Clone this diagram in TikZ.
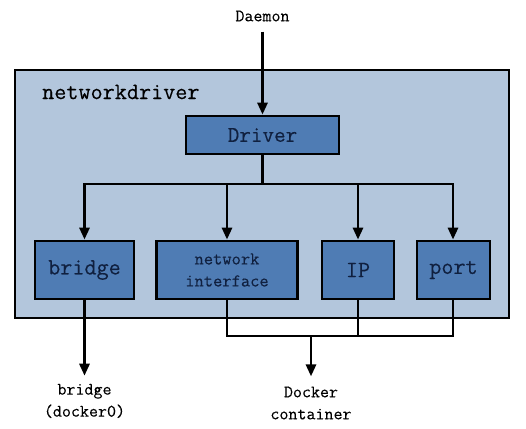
\documentclass[tikz,border=0pt]{standalone}
\usepackage{fontspec}
\setmainfont{Latin Modern Mono}[FakeBold=0.2]
\usetikzlibrary{arrows.meta}
\definecolor{outerfill}{HTML}{B3C6DC}
\definecolor{boxfill}{HTML}{4F7CB4}
\definecolor{boxtext}{HTML}{10203F}
\tikzset{
  blk/.style={draw=black, line width=2.8pt, fill=boxfill, text=boxtext, align=center, inner sep=0pt},
  conn/.style={draw=black, line width=2.8pt},
  arr/.style={conn, -{Triangle[width=10pt,length=12pt]}},
  joinline/.style={draw=black, line width=2pt},
  lbl/.style={align=center, inner sep=0pt, font=\fontsize{17.5}{22}\selectfont}
}
\begin{document}
\begin{tikzpicture}[x=1pt,y=-1pt]
\useasboundingbox (0,0) rectangle (526,428);
\fill[white] (0,0) rectangle (526,428);
% outer container
\node[draw=black, line width=2.8pt, fill=outerfill, minimum width=494pt, minimum height=248pt, inner sep=0pt] (outer) at (262,194) {};
\node[anchor=west, inner sep=0pt, font=\fontsize{23.5}{26}\selectfont] (title) at (42,92) {networkdriver};
% top label
\node[lbl] (daemon) at (262.5,16) {Daemon};
% boxes
\node[blk, minimum width=153pt, minimum height=38pt, font=\fontsize{22.5}{26}\selectfont] (driver) at (262.5,135) {Driver};
\node[blk, minimum width=99pt, minimum height=58pt, font=\fontsize{23.5}{26}\selectfont] (bridge) at (84.5,270) {bridge};
\node[blk, minimum width=141pt, minimum height=58pt, font=\fontsize{18}{22}\selectfont] (netif) at (227,270) {network\\interface};
\node[blk, minimum width=72pt, minimum height=58pt, font=\fontsize{23.5}{26}\selectfont] (ip) at (358,270) {IP};
\node[blk, minimum width=73pt, minimum height=58pt, font=\fontsize{23.5}{26}\selectfont] (port) at (453.5,270) {port};
% bottom labels
\node[lbl] (brlabel) at (84.5,401) {bridge\\(docker0)};
\node[lbl] (dclabel) at (311,403) {Docker\\container};
% bus coordinates
\coordinate (bus) at (262.5,184);
\coordinate (join) at (311,336);
% connectors
\draw[arr] ([yshift=-10pt]daemon.south) -- (driver.north);
\draw[conn] (driver.south) -- (bus);
\draw[conn, line cap=rect] (bridge.north |- bus) -- ([xshift=-0.5pt]port.north |- bus);
\draw[arr] (bridge.north |- bus) -- (bridge.north);
\draw[arr] (netif.north |- bus) -- (netif.north);
\draw[arr] (ip.north |- bus) -- (ip.north);
\draw[arr] ([xshift=-0.5pt]port.north |- bus) -- ([xshift=-0.5pt]port.north);
\draw[arr] (bridge.south) -- ([yshift=8pt]brlabel.north);
\draw[joinline] (netif.south) -- (netif.south |- join) -- ([xshift=-0.5pt]port.south |- join) -- ([xshift=-0.5pt]port.south);
\draw[joinline] (ip.south) -- (ip.south |- join);
\draw[arr] (join) -- ([yshift=10pt]dclabel.north);
\end{tikzpicture}
\end{document}
